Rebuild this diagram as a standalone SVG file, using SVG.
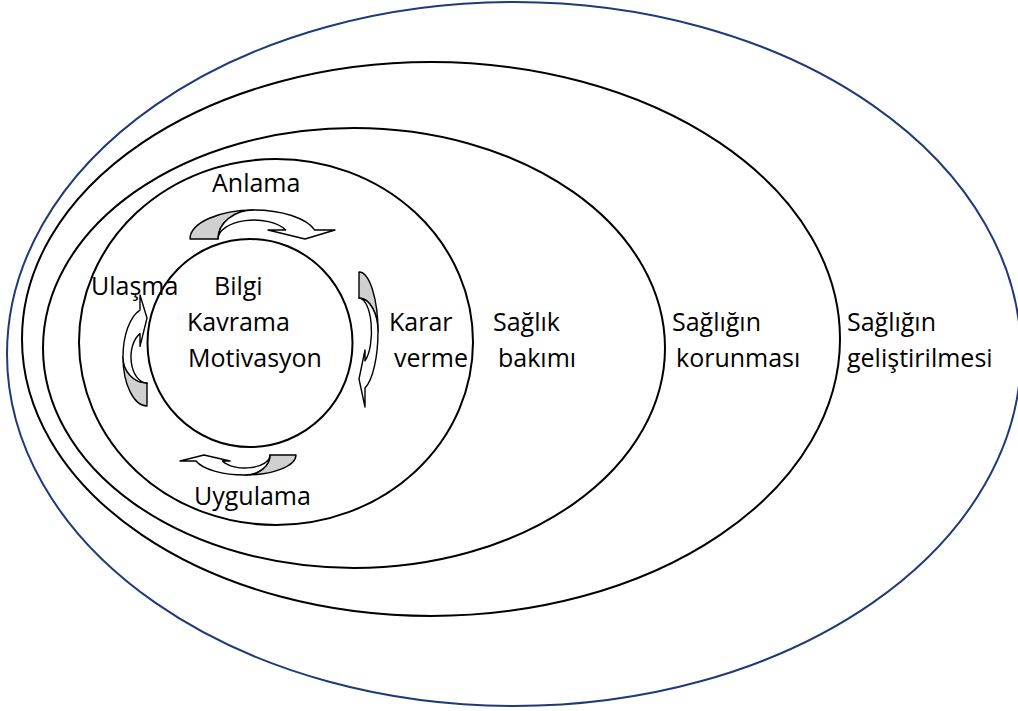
<svg xmlns="http://www.w3.org/2000/svg" width="1018" height="711" viewBox="0 0 1018 711">
<style>
.ring{fill:none;stroke:#000;stroke-width:2}
.blue{fill:none;stroke:#1F3A78;stroke-width:2}
.lbl{font-family:"Open Sans","Noto Sans","Liberation Sans",sans-serif;font-size:25px;fill:#000}
.g{fill:#d0d0d0;stroke:#000;stroke-width:1.4;stroke-linejoin:round}
.w{fill:#fff;stroke:#000;stroke-width:1.4;stroke-linejoin:round}
</style>
<rect width="1018" height="711" fill="#fff"/>
<g id="gelistirilmesi">
<ellipse class="blue" cx="514" cy="354" rx="507" ry="352"/>
<text class="lbl" x="847" y="331">Sağlığın</text>
<text class="lbl" x="847" y="367">geliştirilmesi</text>
</g>
<g id="korunmasi">
<ellipse class="ring" cx="431" cy="339" rx="409" ry="277"/>
<text class="lbl" x="672" y="331">Sağlığın</text>
<text class="lbl" x="676" y="367">korunması</text>
</g>
<g id="saglik-bakimi">
<ellipse class="ring" cx="354" cy="348" rx="311" ry="220"/>
<text class="lbl" x="493" y="331">Sağlık</text>
<text class="lbl" x="498" y="367">bakımı</text>
</g>
<g id="karar-verme">
<ellipse class="ring" cx="276" cy="342" rx="197" ry="183"/>
<text class="lbl" x="389" y="331">Karar</text>
<text class="lbl" x="394" y="367">verme</text>
</g>
<g id="bilgi">
<ellipse class="ring" cx="250" cy="343" rx="102.5" ry="104"/>
<text class="lbl" x="214" y="295">Bilgi</text>
<text class="lbl" x="187" y="331">Kavrama</text>
<text class="lbl" x="188" y="367">Motivasyon</text>
</g>
<g id="connectors">
<path class="g" d="M190,239 A64,29 0 0 1 254,210 A36,29 0 0 0 218,239 Z"/>
<path class="w" d="M254,210 A64,29 0 0 1 314.8,230 L335,230 L305,239 L268,230 L285.7,230 A36,19 0 0 0 218,239 A36,29 0 0 1 254,210 Z"/>
<path class="g" d="M359,272 A19,59.5 0 0 1 378,331.5 A19,33.5 0 0 0 359,298 Z"/>
<path class="w" d="M378,331.5 A19,59.5 0 0 1 365,388 L365,407 L359,379 L365,350 L365,360.9 A12.5,33.5 0 0 0 359,298 A19,33.5 0 0 1 378,331.5 Z"/>
<path class="g" d="M296,455 A51.2,20 0 0 1 244.8,475 A25.2,20 0 0 0 270,455 Z"/>
<path class="w" d="M244.8,475 A51.2,20 0 0 1 196,461 L180,461 L204,455 L230,461 L222.4,461 A25.2,13 0 0 0 270,455 A25.2,20 0 0 1 244.8,475 Z"/>
<path class="g" d="M147,406 A24,49 0 0 1 123,357 A24,26 0 0 0 147,383 Z"/>
<path class="w" d="M123,357 A24,49 0 0 1 140,310.1 L140,295 L147,318 L140,346.3 L140,333.6 A16,26 0 0 0 147,383 A24,26 0 0 1 123,357 Z"/>
</g>
<g id="labels">
<text class="lbl" x="212" y="192">Anlama</text>
<text class="lbl" x="91" y="295">Ulaşma</text>
<text class="lbl" x="194" y="505">Uygulama</text>
</g>
</svg>
